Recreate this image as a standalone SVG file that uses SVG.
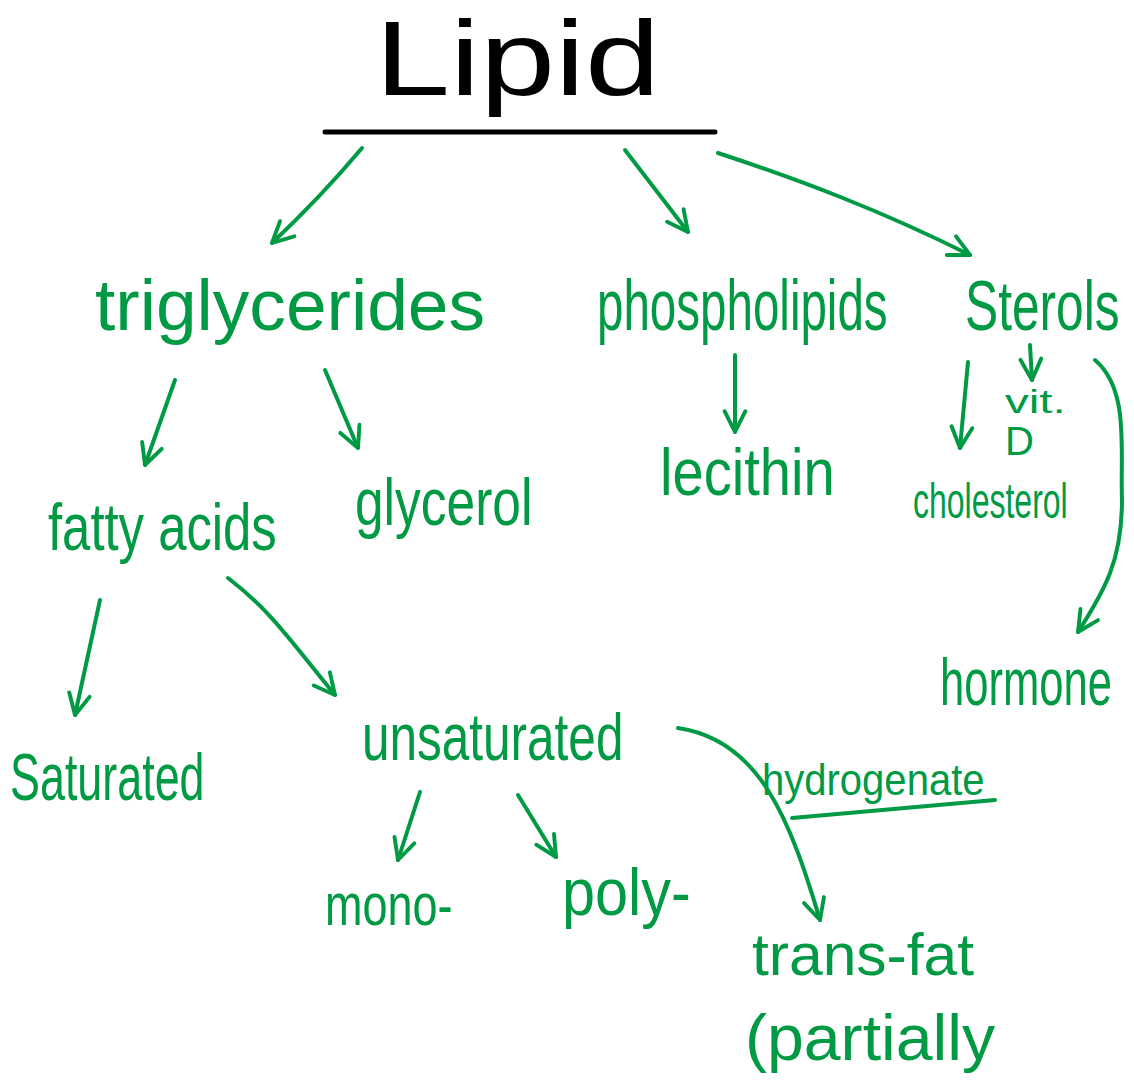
<svg xmlns="http://www.w3.org/2000/svg" width="1134" height="1086" viewBox="0 0 1134 1086">
  <style>
    .t { font-family: "Liberation Sans", "DejaVu Sans", sans-serif; fill: #009a44; }
    .k { font-family: "Liberation Sans", "DejaVu Sans", sans-serif; fill: #000000; }
    .c { fill: none; stroke: #009a44; stroke-width: 4; stroke-linecap: round; stroke-linejoin: round; }
  </style>
  <defs>
    <marker id="arr" viewBox="0 0 10 10" refX="9" refY="5" markerUnits="userSpaceOnUse" markerWidth="26" markerHeight="26" orient="auto">
      <path d="M1,1 L9,5 L1,9" fill="none" stroke="#009a44" stroke-width="1.5" stroke-linecap="round" stroke-linejoin="round"/>
    </marker>
  </defs>
  <rect width="1134" height="1086" fill="#ffffff"/>

  <g id="lipid">
    <text class="k" x="375" y="95" font-size="105" textLength="285" lengthAdjust="spacingAndGlyphs">Lipid</text>
    <path d="M325,132 L715,132" stroke="#000" stroke-width="5" stroke-linecap="round" fill="none"/>
  </g>

  <g id="connectors">
    <path class="c" d="M362,148 Q320,198 272,243" marker-end="url(#arr)"/>
    <path class="c" d="M625,150 L688,232" marker-end="url(#arr)"/>
    <path class="c" d="M718,153 C800,180 880,210 970,255" marker-end="url(#arr)"/>
    <path class="c" d="M175,380 L145,465" marker-end="url(#arr)"/>
    <path class="c" d="M325,370 L358,448" marker-end="url(#arr)"/>
    <path class="c" d="M735,355 L735,432" marker-end="url(#arr)"/>
    <path class="c" d="M968,362 L960,448" marker-end="url(#arr)"/>
    <path class="c" d="M1030,345 L1032,380" marker-end="url(#arr)"/>
    <path class="c" d="M1095,360 C1130,390 1120,450 1122,500 C1122,560 1105,590 1078,632" marker-end="url(#arr)"/>
    <path class="c" d="M100,600 L75,715" marker-end="url(#arr)"/>
    <path class="c" d="M228,578 C270,610 290,640 335,695" marker-end="url(#arr)"/>
    <path class="c" d="M420,792 L398,860" marker-end="url(#arr)"/>
    <path class="c" d="M518,795 L556,857" marker-end="url(#arr)"/>
    <path class="c" d="M678,728 C760,740 790,820 820,920" marker-end="url(#arr)"/>
  </g>

  <g id="triglycerides"><text class="t" x="95" y="330" font-size="72" textLength="390" lengthAdjust="spacingAndGlyphs">triglycerides</text></g>
  <g id="phospholipids"><text class="t" transform="translate(597,330) scale(0.66,1)" font-size="72">phospholipids</text></g>
  <g id="sterols"><text class="t" transform="translate(965,330) scale(0.71,1)" font-size="70">Sterols</text></g>
  <g id="fatty-acids"><text class="t" transform="translate(48,550) scale(0.77,1)" font-size="66">fatty acids</text></g>
  <g id="glycerol"><text class="t" transform="translate(355,525) scale(0.78,1)" font-size="66">glycerol</text></g>
  <g id="lecithin"><text class="t" transform="translate(660,495) scale(0.85,1)" font-size="66">lecithin</text></g>
  <g id="vit-d">
    <text class="t" transform="translate(1005,413) scale(1.4,1)" font-size="34">vit.</text>
    <text class="t" x="1005" y="455" font-size="40">D</text>
  </g>
  <g id="cholesterol"><text class="t" transform="translate(913,518) scale(0.64,1)" font-size="50">cholesterol</text></g>
  <g id="hormone"><text class="t" transform="translate(940,705) scale(0.66,1)" font-size="66">hormone</text></g>
  <g id="saturated"><text class="t" transform="translate(10,800) scale(0.68,1)" font-size="66">Saturated</text></g>
  <g id="unsaturated"><text class="t" transform="translate(362,760) scale(0.75,1)" font-size="66">unsaturated</text></g>
  <g id="mono"><text class="t" transform="translate(325,925) scale(0.75,1)" font-size="60">mono-</text></g>
  <g id="poly"><text class="t" transform="translate(562,915) scale(0.9,1)" font-size="66">poly-</text></g>
  <g id="hydrogenate">
    <text class="t" transform="translate(762,795) scale(0.91,1)" font-size="44">hydrogenate</text>
    <path class="c" d="M792,818 L995,800"/>
  </g>
  <g id="trans-fat">
    <text class="t" x="752" y="975" font-size="60" textLength="222" lengthAdjust="spacingAndGlyphs">trans-fat</text>
    <text class="t" x="745" y="1060" font-size="64" textLength="250" lengthAdjust="spacingAndGlyphs">(partially</text>
  </g>
</svg>
